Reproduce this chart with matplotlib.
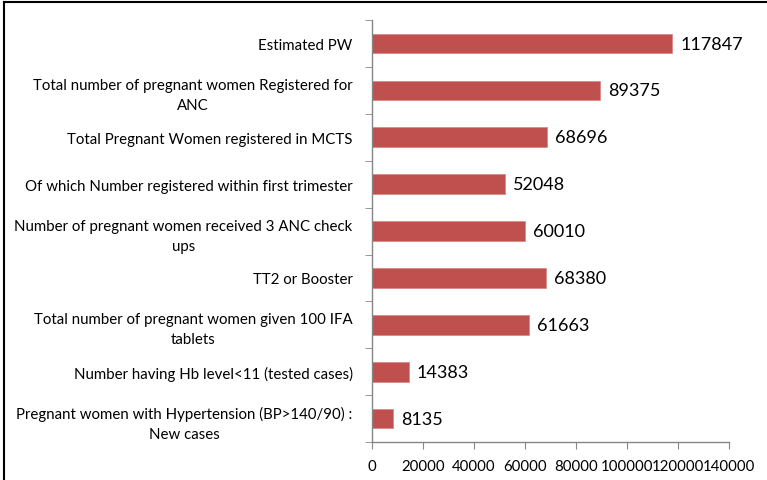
import numpy as np
import matplotlib.pyplot as plt
from matplotlib.lines import Line2D
import matplotlib

matplotlib.rcParams["font.family"] = ["Lato", "DejaVu Sans"]

categories = [
    'Estimated PW',
    'Total number of pregnant women Registered for\nANC',
    'Total Pregnant Women registered in MCTS',
    'Of which Number registered within first trimester',
    'Number of pregnant women received 3 ANC check\nups',
    'TT2 or Booster',
    'Total number of pregnant women given 100 IFA\ntablets',
    'Number having Hb level<11 (tested cases)',
    'Pregnant women with Hypertension (BP>140/90) :\nNew cases',
]
values = [117847, 89375, 68696, 52048, 60010, 68380, 61663, 14383, 8135]
xticks = [0, 20000, 40000, 60000, 80000, 100000, 120000, 140000]

fig = plt.figure(figsize=(7.67, 4.81), dpi=100)
ax = fig.add_axes([0.485, 0.079, 0.465, 0.877])

y = np.arange(len(categories))
ax.barh(y, values, height=0.42, color='#C0504D', edgecolor='#D98A88', linewidth=0.6)

for yi, v in zip(y, values):
    ax.text(v + 3200, yi, str(v), va='center', ha='left', fontsize=13, color='black')

ax.set_ylim(len(categories) - 0.5, -0.5)
ax.set_xlim(0, 140000)
ax.set_yticks(y)
ax.set_yticklabels(categories, fontsize=10.8, multialignment='center', linespacing=1.55)
ax.set_yticks(np.arange(-0.5, len(categories)), minor=True)
ax.tick_params(axis='y', which='major', length=0, pad=14)
ax.tick_params(axis='y', which='minor', length=5, color='#868686', direction='out')
ax.set_xticks(xticks)
ax.set_xticklabels([str(t) for t in xticks], fontsize=10.8)
ax.tick_params(axis='x', length=5, color='#868686', direction='out', pad=7)

for s in ['top', 'right']:
    ax.spines[s].set_visible(False)
for s in ['left', 'bottom']:
    ax.spines[s].set_color('#868686')
    ax.spines[s].set_linewidth(1.0)

# outer frame (left and top edges)
fig.add_artist(Line2D([0.005, 0.005], [0, 0.994], transform=fig.transFigure, color='black', linewidth=1.5))
fig.add_artist(Line2D([0.005, 1.0], [0.994, 0.994], transform=fig.transFigure, color='black', linewidth=1.5))

fig.savefig('out.png', dpi=100)
